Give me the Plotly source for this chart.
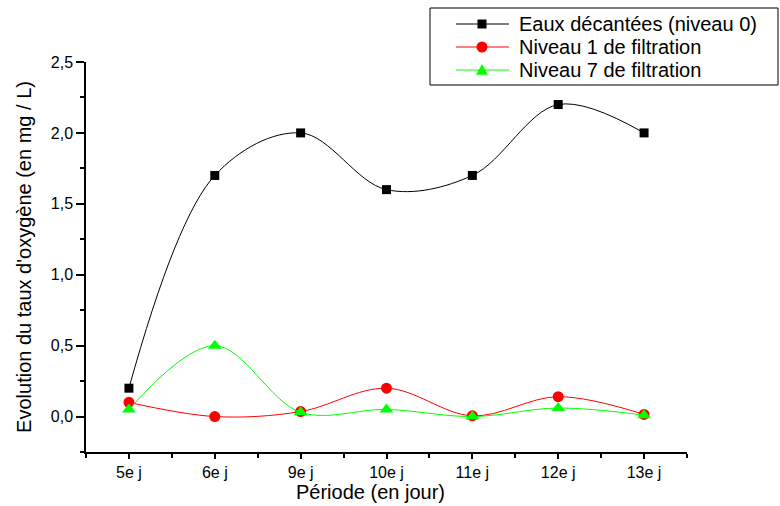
import plotly.graph_objects as go

categories = ["5e j", "6e j", "9e j", "10e j", "11e j", "12e j", "13e j"]
eaux_decantees = [0.20, 1.70, 2.00, 1.60, 1.70, 2.20, 2.00]
niveau_1 = [0.10, 0.00, 0.035, 0.20, 0.005, 0.14, 0.015]
niveau_7 = [0.05, 0.50, 0.03, 0.05, 0.00, 0.06, 0.01]

x_idx = list(range(len(categories)))

W, H = 780, 506
L, R, T, B = 86, 93, 62, 54
pw, ph = W - L - R, H - T - B

def px_x(p):
    return (p - L) / pw

def px_y(p):
    return (H - B - p) / ph

font = "Liberation Sans, Arial, sans-serif"

fig = go.Figure()
series = [
    ("Eaux décantées (niveau 0)", eaux_decantees, "#000000", "square", 9),
    ("Niveau 1 de filtration", niveau_1, "#FF0000", "circle", 11),
    ("Niveau 7 de filtration", niveau_7, "#00FF00", "triangle-up", 12),
]
for name, vals, col, sym, sz in series:
    fig.add_trace(go.Scatter(
        x=x_idx, y=vals, name=name, mode="lines+markers",
        line=dict(color=col, width=1, shape="spline", smoothing=1.0),
        marker=dict(color=col, symbol=sym, size=sz, line=dict(width=0)),
        showlegend=False,
    ))

# hand-drawn legend box (pixel layout)
shapes = [dict(
    type="rect", xref="paper", yref="paper",
    x0=px_x(430), x1=px_x(778), y0=px_y(85), y1=px_y(8),
    line=dict(color="black", width=1), fillcolor="rgba(0,0,0,0)",
)]
annotations = []
rows_y = [24, 47, 70]
lx0, lx1, mx, tx = 456, 509, 482, 517
for (name, vals, col, sym, sz), ry in zip(series, rows_y):
    shapes.append(dict(type="line", xref="paper", yref="paper",
                       x0=px_x(lx0), x1=px_x(lx1), y0=px_y(ry), y1=px_y(ry),
                       line=dict(color=col, width=1)))
    if sym == "square":
        h = 4.5
        shapes.append(dict(type="rect", xref="paper", yref="paper",
                           x0=px_x(mx - h), x1=px_x(mx + h), y0=px_y(ry + h), y1=px_y(ry - h),
                           line=dict(width=0), fillcolor=col))
    elif sym == "circle":
        h = 5.5
        shapes.append(dict(type="circle", xref="paper", yref="paper",
                           x0=px_x(mx - h), x1=px_x(mx + h), y0=px_y(ry + h), y1=px_y(ry - h),
                           line=dict(width=0), fillcolor=col))
    else:
        h = 6
        path = "M {} {} L {} {} L {} {} Z".format(
            px_x(mx - h), px_y(ry + h * 0.8),
            px_x(mx + h), px_y(ry + h * 0.8),
            px_x(mx), px_y(ry - h))
        shapes.append(dict(type="path", xref="paper", yref="paper", path=path,
                           line=dict(width=0), fillcolor=col))
    annotations.append(dict(text=name, xref="paper", yref="paper",
                            x=px_x(tx), y=px_y(ry), xanchor="left", yanchor="middle",
                            showarrow=False,
                            font=dict(family=font, size=20, color="black")))

annotations.append(dict(text="Période (en jour)", xref="paper", yref="paper",
                        x=px_x(370), y=px_y(492), xanchor="center", yanchor="middle",
                        showarrow=False, font=dict(family=font, size=20, color="black")))

fig.update_layout(
    width=W, height=H,
    margin=dict(l=L, r=R, t=T, b=B, pad=0),
    paper_bgcolor="white", plot_bgcolor="white",
    separators=", ",
    font=dict(family=font, color="black", size=16),
    showlegend=False,
    shapes=shapes,
    annotations=annotations,
)

fig.update_xaxes(
    range=[-0.5, 6.5],
    tickmode="array", tickvals=x_idx, ticktext=categories,
    showgrid=False, zeroline=False,
    showline=True, linecolor="black", linewidth=1.5,
    ticks="outside", ticklen=5, tickwidth=1.5, tickcolor="black",
    tickfont=dict(family=font, size=16),
    minor=dict(ticks="outside", ticklen=4, tickwidth=1.5, tickcolor="black",
               tickmode="array", tickvals=[i + 0.5 for i in range(-1, len(categories))]),
)

fig.update_yaxes(
    range=[-0.25, 2.5],
    tickmode="linear", tick0=0, dtick=0.5, tickformat=".1f",
    showgrid=False, zeroline=False,
    showline=True, linecolor="black", linewidth=1.5,
    ticks="outside", ticklen=8, tickwidth=1.5, tickcolor="black",
    tickfont=dict(family=font, size=16),
    minor=dict(ticks="outside", ticklen=4, tickwidth=1.5, tickcolor="black",
               dtick=0.25, tick0=0),
    title=dict(text="Evolution du taux d'oxygène (en mg / L)", font=dict(family=font, size=20), standoff=14),
)

fig.write_html("out.html")
